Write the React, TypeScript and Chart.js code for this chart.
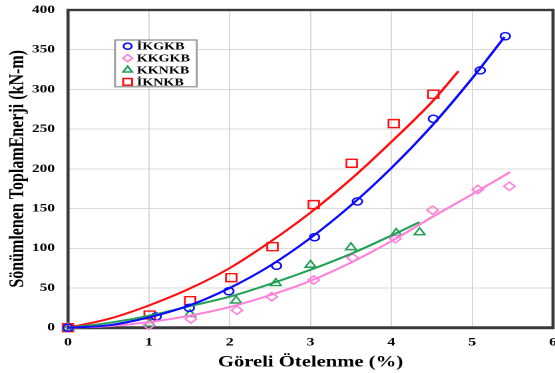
import React, { useEffect, useRef } from "react";
import { Chart, registerables } from "chart.js";
import { drawPoint } from "chart.js/helpers";

Chart.register(...registerables);

// ---- data ----
const seriesNames = ["İKGKB", "KKGKB", "KKNKB", "İKNKB"];

const ikgkbX = [0, 1.09, 1.5, 1.99, 2.58, 3.05, 3.58, 4.52, 5.1, 5.41];
const ikgkbY = [0, 14, 25, 46, 78, 114, 159, 263, 324, 367];

const kkgkbX = [0, 1.0, 1.52, 2.09, 2.52, 3.04, 3.52, 4.05, 4.51, 5.07, 5.46];
const kkgkbY = [0, 3, 11, 22, 39, 60, 88, 112, 148, 174, 178];

const kknkbX = [0, 1.01, 1.51, 2.08, 2.57, 3.0, 3.5, 4.06, 4.35];
const kknkbY = [0, 5, 17, 34, 56, 79, 101, 119, 120];

const iknkbX = [0, 1.01, 1.51, 2.02, 2.53, 3.04, 3.51, 4.03, 4.52];
const iknkbY = [0, 16, 34, 63, 102, 155, 207, 257, 294];

// trend curves
const ikgkbFitX = [0, 0.5, 1, 1.5, 2, 2.5, 3, 3.5, 4, 4.5, 5, 5.4];
const ikgkbFitY = [0, 3, 13, 28, 50, 78, 113, 154, 201, 254, 314, 366];

const kkgkbFitX = [0, 0.5, 1, 1.5, 2, 2.5, 3, 3.5, 4, 4.5, 5, 5.47];
const kkgkbFitY = [0, 2, 7, 15, 26, 41, 59, 82, 109, 139, 168, 196];

const kknkbFitX = [0, 0.5, 1, 1.5, 2, 2.5, 3, 3.5, 4, 4.35];
const kknkbFitY = [0, 6, 15, 27, 39, 55, 73, 93, 116, 133];

const iknkbFitX = [0, 0.5, 1, 1.5, 2, 2.5, 3, 3.5, 4, 4.5, 4.83];
const iknkbFitY = [0, 11, 28, 49, 75, 108, 145, 187, 234, 284, 323];

const xTickValues = [0, 1, 2, 3, 4, 5, 6];
const yTickValues = [0, 50, 100, 150, 200, 250, 300, 350, 400];

const xTitle = "Göreli Ötelenme (%)";
const yTitle = "Sönümlenen ToplamEnerji (kN-m)";

// ---- styles ----
const colors = ["#0a0aff", "#ff80d8", "#1fa055", "#ff1010"];
const styles = ["circle", "rectRot", "triangle", "rect"];
const radii = [3.6, 4.2, 4.6, 5.6];

const FONT = "'Liberation Serif', 'Times New Roman', serif";
const LOGICAL_W = 417;
const H = 373;
const SCALE_X = 555 / LOGICAL_W;

const toPts = (xs: number[], ys: number[]) => xs.map((x, i) => ({ x, y: ys[i] }));

const framePlugin = {
  id: "frame",
  beforeDatasetsDraw(chart: any) {
    const { ctx, chartArea } = chart;
    ctx.save();
    ctx.strokeStyle = "#3a3a3a";
    ctx.lineWidth = 2.4;
    ctx.strokeRect(chartArea.left, chartArea.top, chartArea.right - chartArea.left, chartArea.bottom - chartArea.top);
    ctx.beginPath();
    ctx.lineWidth = 3;
    ctx.moveTo(chartArea.left - 1, chartArea.bottom);
    ctx.lineTo(chartArea.right + 1, chartArea.bottom);
    ctx.stroke();
    ctx.restore();
  },
};

const legendPlugin = {
  id: "boxLegend",
  afterDraw(chart: any) {
    const ctx = chart.ctx;
    const x0 = 86.4, y0 = 40, w = 61.4, h = 46.7;
    ctx.save();
    ctx.fillStyle = "#ffffff";
    ctx.fillRect(x0, y0, w, h);
    ctx.strokeStyle = "#a0a0a0";
    ctx.lineWidth = 1.5;
    ctx.strokeRect(x0, y0, w, h);
    ctx.font = `bold 10.6px ${FONT}`;
    ctx.textBaseline = "middle";
    ctx.textAlign = "left";
    seriesNames.forEach((name, i) => {
      const y = 46.2 + i * 11.9;
      ctx.fillStyle = "rgba(0,0,0,0)";
      ctx.strokeStyle = colors[i];
      ctx.lineWidth = 1.5;
      drawPoint(ctx, { pointStyle: styles[i], rotation: 0, radius: radii[i] * 0.85, borderWidth: 1.5 } as any, 95.9, y);
      ctx.fillStyle = "#000";
      ctx.fillText(name, 102.7, y + 0.8);
    });
    ctx.restore();
  },
};

export default function App() {
  const ref = useRef<HTMLCanvasElement | null>(null);

  useEffect(() => {
    document.body.style.margin = "0";
    document.body.style.overflow = "hidden";
    const canvas = ref.current;
    if (!canvas) return;

    const pointSets = [
      toPts(ikgkbX, ikgkbY),
      toPts(kkgkbX, kkgkbY),
      toPts(kknkbX, kknkbY),
      toPts(iknkbX, iknkbY),
    ];
    const fitSets = [
      toPts(ikgkbFitX, ikgkbFitY),
      toPts(kkgkbFitX, kkgkbFitY),
      toPts(kknkbFitX, kknkbFitY),
      toPts(iknkbFitX, iknkbFitY),
    ];

    const datasets: any[] = [];
    fitSets.forEach((d, i) => {
      datasets.push({
        label: seriesNames[i] + " trend",
        data: d,
        showLine: true,
        borderColor: colors[i],
        borderWidth: 2,
        pointRadius: 0,
        cubicInterpolationMode: "monotone",
        fill: false,
        clip: 6,
      });
    });
    pointSets.forEach((d, i) => {
      datasets.push({
        label: seriesNames[i],
        data: d,
        showLine: false,
        pointStyle: styles[i],
        pointRadius: radii[i],
        pointBorderWidth: 1.4,
        borderColor: colors[i],
        backgroundColor: "rgba(0,0,0,0)",
        clip: 8,
      });
    });

    const chart = new Chart(canvas, {
      type: "scatter",
      data: { datasets },
      options: {
        animation: false,
        responsive: true,
        maintainAspectRatio: false,
        devicePixelRatio: 2,
        layout: { autoPadding: false, padding: { top: 10, right: 1.5, left: 0, bottom: 0 } },
        plugins: { legend: { display: false }, tooltip: { enabled: false } },
        scales: {
          x: {
            type: "linear",
            min: 0,
            max: 6,
            afterBuildTicks: (s: any) => {
              s.ticks = xTickValues.map((v) => ({ value: v }));
            },
            afterFit: (s: any) => {
              s.height = 45.3;
              s.paddingLeft = 0;
              s.paddingRight = 0;
            },
            grid: { color: "#d8d8d8", lineWidth: 1, drawTicks: false },
            border: { display: false },
            ticks: {
              color: "#000",
              padding: 7.5,
              font: { family: FONT, size: 12, weight: "bold" },
            },
            title: {
              display: true,
              text: xTitle,
              color: "#000",
              padding: { top: 0, bottom: 1 },
              font: { family: FONT, size: 15.5, weight: "bold" },
            },
          },
          y: {
            type: "linear",
            min: 0,
            max: 400,
            afterBuildTicks: (s: any) => {
              s.ticks = yTickValues.map((v) => ({ value: v }));
            },
            afterFit: (s: any) => {
              s.width = 51.1;
              s.paddingTop = 0;
              s.paddingBottom = 0;
            },
            grid: { color: "#d8d8d8", lineWidth: 1, drawTicks: false },
            border: { display: false },
            ticks: {
              color: "#000",
              padding: 9.8,
              font: { family: FONT, size: 11.5, weight: "bold" },
            },
            title: {
              display: true,
              text: yTitle,
              color: "#000",
              padding: { top: 4, bottom: 0 },
              font: { family: FONT, size: 16, weight: "bold" },
            },
          },
        },
      } as any,
      plugins: [framePlugin, legendPlugin],
    });

    return () => chart.destroy();
  }, []);

  return (
    <div style={{ width: 555, height: H, overflow: "hidden", position: "relative" }}>
      <div
        style={{
          width: LOGICAL_W,
          height: H,
          position: "absolute",
          left: 0,
          top: 0,
          transform: `scaleX(${SCALE_X})`,
          transformOrigin: "0 0",
        }}
      >
        <canvas ref={ref} />
      </div>
    </div>
  );
}
